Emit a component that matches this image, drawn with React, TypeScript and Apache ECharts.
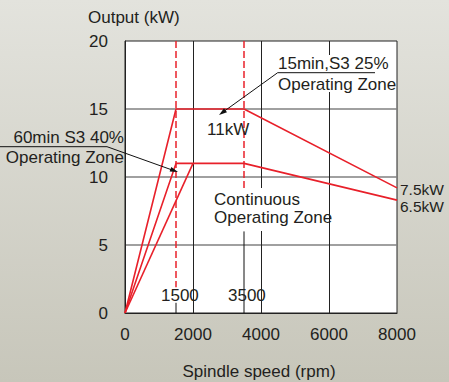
import React, { useEffect, useRef } from "react";
import * as echarts from "echarts";

// Speed (rpm) / output (kW) curves
const speed25 = [0, 1500, 3500, 8000];
const power25 = [0, 15, 15, 9.2];
const speed40 = [0, 1500, 3500, 8000];
const power40 = [0, 11, 11, 8.3];
const speedCont = [0, 2000];
const powerCont = [0, 11];

// Base speeds (dashed markers)
const baseSpeeds = [1500, 3500];
const dashTop = [20, 20];
const dashBottom = [1.9, 9.2];
const tickTop = [0.75, 6.0];

const xTicks = [0, 2000, 4000, 6000, 8000];
const yTicks = [0, 5, 10, 15, 20];

const RED = "#e8202a";
const INK = "#231f20";
const FONT = "'Liberation Sans', Arial, Helvetica, sans-serif";
const FS = 17;

function pairs(xs: number[], ys: number[]) {
  return xs.map((x, i) => [x, ys[i]]);
}

export default function App() {
  const ref = useRef<HTMLDivElement>(null);
  useEffect(() => {
    if (!ref.current) return;
    const chart = echarts.init(ref.current, null, { renderer: "svg" });
    const txt = (text: string, x: number, y: number, align = "left", lh?: number, fs = FS) => ({
      type: "text",
      z: 20,
      x,
      y,
      style: {
        text,
        fill: INK,
        fontSize: fs,
        fontFamily: FONT,
        align,
        verticalAlign: "middle",
        ...(lh ? { lineHeight: lh } : {}),
      },
    });
    const blackLine = { stroke: "#111", lineWidth: 1 };

    const dashSeries = baseSpeeds.map((s, i) => ({
      type: "line",
      symbol: "none",
      silent: true,
      z: 3,
      data: [
        [s, dashTop[i]],
        [s, dashBottom[i]],
      ],
      lineStyle: { color: RED, width: 1.5, type: [7, 3] },
    }));
    const tickSeries = baseSpeeds.map((s, i) => ({
      type: "line",
      symbol: "none",
      silent: true,
      z: 3,
      data: [
        [s, 0],
        [s, tickTop[i]],
      ],
      lineStyle: { color: "#111", width: 1 },
    }));

    chart.setOption({
      animation: false,
      backgroundColor: {
        type: "linear",
        x: 0,
        y: 0,
        x2: 0,
        y2: 1,
        colorStops: [
          { offset: 0, color: "#e3e3dd" },
          { offset: 1, color: "#c7c6ba" },
        ],
      },
      grid: {
        left: 125,
        right: 52,
        top: 41,
        bottom: 69,
        show: true,
        backgroundColor: "#ffffff",
        borderColor: "#222",
        borderWidth: 1,
      },
      xAxis: {
        type: "value",
        min: xTicks[0],
        max: xTicks[xTicks.length - 1],
        interval: xTicks[1] - xTicks[0],
        axisLine: { show: true, lineStyle: { color: "#222", width: 1 } },
        axisTick: { show: false },
        axisLabel: {
          color: INK,
          fontSize: FS,
          fontFamily: FONT,
          margin: 13,
          formatter: (v: number) => String(v),
        },
        splitLine: {
          show: true,
          showMinLine: false,
          showMaxLine: false,
          lineStyle: { color: "#222", width: 1 },
        },
      },
      yAxis: {
        type: "value",
        min: yTicks[0],
        max: yTicks[yTicks.length - 1],
        interval: yTicks[1] - yTicks[0],
        axisLine: { show: true, lineStyle: { color: "#222", width: 1 } },
        axisTick: { show: false },
        axisLabel: {
          color: INK,
          fontSize: FS,
          fontFamily: FONT,
          margin: 17,
          padding: [6, 0, 0, 0],
          formatter: (v: number) => String(v),
        },
        splitLine: {
          show: true,
          showMinLine: false,
          showMaxLine: false,
          lineStyle: { color: "#808080", width: 1.5 },
        },
      },
      series: [
        ...dashSeries,
        ...tickSeries,
        {
          name: "15min S3 25%",
          type: "line",
          symbol: "none",
          z: 4,
          data: pairs(speed25, power25),
          lineStyle: { color: RED, width: 1.6 },
        },
        {
          name: "60min S3 40%",
          type: "line",
          symbol: "none",
          z: 4,
          data: pairs(speed40, power40),
          lineStyle: { color: RED, width: 1.6 },
        },
        {
          name: "Continuous",
          type: "line",
          symbol: "none",
          z: 4,
          data: pairs(speedCont, powerCont),
          lineStyle: { color: RED, width: 1.6 },
        },
      ],
      graphic: [
        // white patches behind annotations
        { type: "rect", z: 10, shape: { x: 198, y: 188, width: 120, height: 43 }, style: { fill: "#fff" } },
        { type: "rect", z: 10, shape: { x: 276, y: 55, width: 120, height: 37 }, style: { fill: "#fff" } },
        txt("Output (kW)", 88, 17.5),
        txt("Spindle speed (rpm)", 259, 371, "center"),
        txt("60min S3 40%", 124, 137.5, "right", 17),
        txt("Operating Zone", 124, 157.5, "right", 17),
        txt("15min,S3 25%", 278, 63.5, "left", 17),
        txt("Operating Zone", 278, 84.5, "left", 17),
        txt("11kW", 207, 129),
        txt("Continuous", 214, 199, "left", 16),
        txt("Operating Zone", 214, 217, "left", 16),
        txt("1500", 161, 295),
        txt("3500", 228, 295),
        txt("7.5kW", 400, 189, "left", 12, 15.5),
        txt("6.5kW", 400, 206.5, "left", 12, 15.5),
        {
          type: "polyline",
          z: 21,
          shape: { points: [[0, 146.7], [107, 146.7], [175, 171]] },
          style: { ...blackLine, fill: "none" },
        },
        {
          type: "polygon",
          z: 21,
          shape: { points: [[178, 172], [169.6, 171.6], [171.3, 166.9]] },
          style: { fill: "#111" },
        },
        {
          type: "polyline",
          z: 21,
          shape: { points: [[375, 72.7], [277.7, 72.7], [221, 113.5]] },
          style: { ...blackLine, fill: "none" },
        },
        {
          type: "polygon",
          z: 21,
          shape: { points: [[219, 115], [224.0, 108.3], [227.0, 112.3]] },
          style: { fill: "#111" },
        },
      ],
    });
    return () => chart.dispose();
  }, []);
  return (
    <div
      ref={ref}
      style={{ position: "absolute", left: 0, top: 0, width: 449, height: 382 }}
    />
  );
}
